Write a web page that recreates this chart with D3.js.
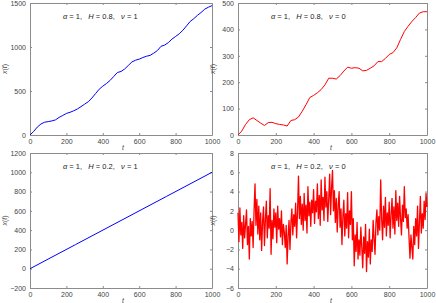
<!DOCTYPE html>
<html>
<head>
<meta charset="utf-8">
<script src="https://cdn.jsdelivr.net/npm/d3@7"></script>
<style>
  body { margin: 0; background: #fff; }
  text { font-family: "Liberation Sans", Arial, sans-serif; }
</style>
</head>
<body>
<div id="chart"></div>
<script>
// t values (step 20) for the H = 0.8 runs
let tCoarse = d3.range(0, 1001, 20)
// t values (step 5) for the H = 0.2, v = 0 run
let tFine = d3.range(0, 1001, 5)

let blueH08 = [0, 40, 90, 125, 145, 152, 160, 172, 200, 222, 245, 258, 275, 295, 322,
  350, 378, 420, 470, 520, 555, 585, 620, 665, 710, 722, 750, 790, 830, 850, 862, 880,
  895, 905, 930, 960, 1008, 1022, 1050, 1090, 1120, 1150, 1190, 1240, 1290, 1322, 1360,
  1392, 1430, 1452, 1470]

let redH08 = [0, 15, 40, 58, 65, 55, 45, 36, 47, 48, 43, 40, 38, 34, 55, 58, 68, 90, 115,
  142, 150, 160, 172, 190, 215, 215, 212, 225, 242, 257, 253, 255, 253, 243, 245, 253,
  262, 278, 278, 290, 305, 312, 330, 362, 392, 412, 430, 445, 462, 467, 467]

let tLine = [0, 250, 500, 750, 1000]
let blueH02 = [0, 250, 500, 750, 1000]

let redH02 = [
  1.8, -1.2, 2.3, -0.5, 0.8, -1.9, 1.5, -0.8, 0.6, 2.1,
  -1.5, 0.4, -3.0, 1.2, -0.6, 0.9, -1.8, 2.0, 4.8, 0.5,
  3.2, -0.4, 2.5, -1.0, 1.8, -2.1, 0.9, 2.4, -1.6, 1.1,
  3.0, -0.8, 1.5, 0.2, 4.3, -2.5, 1.0, -0.9, 2.2, 0.3,
  1.8, -1.3, 2.5, 0.1, 1.2, -0.7, 2.0, -1.5, 0.6, -0.2,
  -1.8, 0.5, -3.5, -0.6, 1.0, -2.0, 0.8, 2.2, -0.5, 1.6,
  0.4, 2.8, -0.8, 1.9, 5.6, 1.2, 3.5, 0.6, 2.7, 0.0,
  3.8, 1.0, 2.6, -0.3, 4.5, 1.5, 2.9, 0.4, 3.1, 1.8,
  4.2, 0.7, 3.0, 1.9, 4.8, 1.2, 3.6, 0.5, 5.2, 2.1,
  3.4, 1.0, 5.5, 2.4, 4.0, 0.9, 3.2, 5.8, 1.6, 4.4,
  6.2, 2.0, 4.1, 0.8, 3.3, -0.2, 2.5, 4.0, 0.3, 2.2,
  -1.5, 1.4, 3.1, -0.6, 1.7, 0.2, 3.9, -0.8, 2.0, 0.6,
  4.0, -1.0, 1.2, -3.7, -0.5, -2.2, 0.8, -3.0, -1.0, -2.6,
  0.3, -1.8, -3.9, -0.7, -2.4, 0.6, -4.3, -1.2, -2.8, 0.1,
  -3.5, -1.0, -2.2, 1.0, -0.9, -2.5, 0.8, 2.1, -0.5, 1.4,
  0.0, 5.2, 1.2, -1.0, 2.5, 0.3, 3.4, -0.6, 1.8, 0.5,
  2.9, -0.8, 1.6, 3.3, 0.2, 2.4, -0.4, 4.1, 1.0, 2.8,
  0.4, 3.5, 1.2, -0.5, 2.6, 0.9, 4.5, 1.3, 2.2, 0.2,
  1.6, -0.8, -2.9, -0.5, -1.8, -3.0, 0.4, -1.5, 1.2, -0.6,
  2.5, -1.9, 0.8, 3.5, -0.3, 1.7, 0.2, 3.0, 1.1, 3.8,
  2.4]

let xTicks = [0, 200, 400, 600, 800, 1000]
let yTicks1 = [0, 500, 1000, 1500]
let yTicks2 = [0, 100, 200, 300, 400, 500]
let yTicks3 = [-200, 0, 200, 400, 600, 800, 1000, 1200]
let yTicks4 = [-6, -4, -2, 0, 2, 4, 6, 8]

let labels = [
  ['1', '0.8', '1'],
  ['1', '0.8', '0'],
  ['1', '0.2', '1'],
  ['1', '0.2', '0']
]

let panels = [
  { t: tCoarse, x: blueH08, ticks: yTicks1, color: '#0000ff', width: 1, box: [30, 212, 3, 135], lab: labels[0] },
  { t: tCoarse, x: redH08, ticks: yTicks2, color: '#ff0000', width: 1, box: [238, 427, 3, 135], lab: labels[1] },
  { t: tLine, x: blueH02, ticks: yTicks3, color: '#0000ff', width: 1, box: [30, 212, 153, 288], lab: labels[2] },
  { t: tFine, x: redH02, ticks: yTicks4, color: '#ff0000', width: 1.3, box: [238, 427, 153, 288], lab: labels[3] }
]

let svg = d3
  .select('#chart')
  .append('svg')
  .attr('width', 436)
  .attr('height', 303)

let axisColor = '#8c8c8c'
let textColor = '#444'
let fmt = d3.format('d')

panels.forEach(function (p) {
  let [x0, x1, y0, y1] = p.box
  let xScale = d3.scaleLinear().domain([0, 1000]).range([x0, x1])
  let yScale = d3.scaleLinear().domain(d3.extent(p.ticks)).range([y1, y0])

  let g = svg.append('g')

  // ticks on all four sides, pointing inward
  let axes = [
    [d3.axisBottom(xScale).tickValues(xTicks).tickFormat(fmt).tickSize(-2).tickPadding(4), 'translate(0,' + y1 + ')', true],
    [d3.axisTop(xScale).tickValues(xTicks).tickSize(-2), 'translate(0,' + y0 + ')', false],
    [d3.axisLeft(yScale).tickValues(p.ticks).tickFormat(fmt).tickSize(-2).tickPadding(4), 'translate(' + x0 + ',0)', true],
    [d3.axisRight(yScale).tickValues(p.ticks).tickSize(-2), 'translate(' + x1 + ',0)', false]
  ]
  axes.forEach(function (a) {
    let ag = g.append('g').attr('transform', a[1]).call(a[0].tickSizeOuter(0))
    ag.select('.domain').attr('stroke', axisColor)
    ag.selectAll('.tick line').attr('stroke', axisColor)
    ag.selectAll('text')
      .attr('font-size', '7px')
      .attr('font-family', '"Liberation Sans", Arial, sans-serif')
      .attr('fill', textColor)
    if (!a[2]) ag.selectAll('text').remove()
  })

  let line = d3.line()
    .x(function (d) { return xScale(d[0]) })
    .y(function (d) { return yScale(d[1]) })

  g.append('path')
    .datum(d3.zip(p.t, p.x))
    .attr('d', line)
    .attr('fill', 'none')
    .attr('stroke', p.color)
    .attr('stroke-width', p.width)
    .attr('stroke-linejoin', 'round')

  let note = g.append('text')
    .attr('x', x0 + 33)
    .attr('y', y0 + 16)
    .attr('font-size', '7.5px')
    .attr('fill', '#222')
    .attr('xml:space', 'preserve')
    .style('white-space', 'pre')
  note.append('tspan').attr('font-style', 'italic').text('α')
  note.append('tspan').text(' = ' + p.lab[0] + ',   ')
  note.append('tspan').attr('font-style', 'italic').text('H')
  note.append('tspan').text(' = ' + p.lab[1] + ',   ')
  note.append('tspan').attr('font-style', 'italic').text('ν')
  note.append('tspan').text(' = ' + p.lab[2])

  g.append('text')
    .attr('x', x0 + 93)
    .attr('y', y1 + 15)
    .attr('text-anchor', 'middle')
    .attr('font-size', '7px')
    .attr('font-style', 'italic')
    .attr('fill', textColor)
    .text('t')

  g.append('text')
    .attr('transform', 'translate(' + (x0 - 23) + ',' + ((y0 + y1) / 2) + ') rotate(-90)')
    .attr('text-anchor', 'middle')
    .attr('font-size', '7px')
    .attr('fill', textColor)
    .html('<tspan font-style="italic">x</tspan>(<tspan font-style="italic">t</tspan>)')
})
</script>
</body>
</html>
